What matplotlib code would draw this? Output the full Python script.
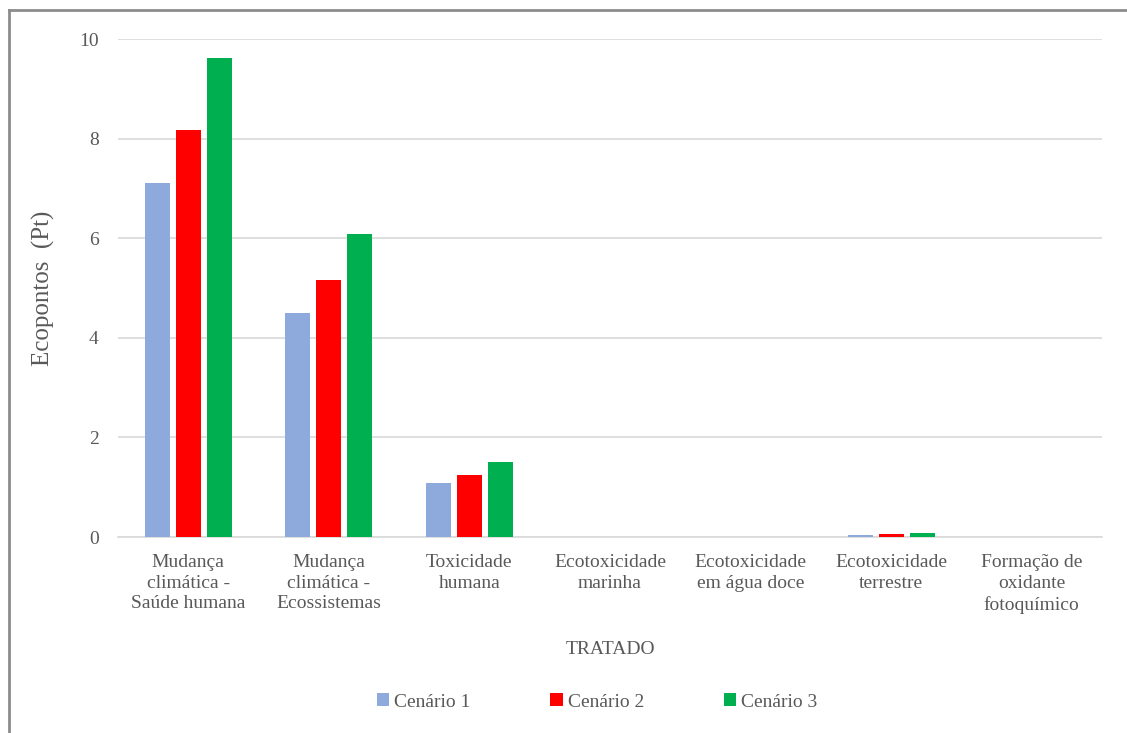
import matplotlib
matplotlib.use("Agg")
import matplotlib.pyplot as plt
import numpy as np
from matplotlib.lines import Line2D

categories = ["Mudança\nclimática -\nSaúde humana", "Mudança\nclimática -\nEcossistemas",
              "Toxicidade\nhumana", "Ecotoxicidade\nmarinha", "Ecotoxicidade\nem água doce",
              "Ecotoxicidade\nterrestre", "Formação de\noxidante\nfotoquímico"]
cenario1 = [7.10, 4.50, 1.08, 0.004, 0.004, 0.05, 0.003]
cenario2 = [8.18, 5.16, 1.25, 0.004, 0.004, 0.06, 0.003]
cenario3 = [9.62, 6.08, 1.50, 0.005, 0.005, 0.08, 0.004]
series_names = ["Cenário 1", "Cenário 2", "Cenário 3"]
colors = ["#8EA9DB", "#FF0000", "#00B050"]
yticks = [0, 2, 4, 6, 8, 10]

plt.rcParams['font.family'] = 'serif'
plt.rcParams['font.serif'] = ['Liberation Serif', 'Times New Roman', 'DejaVu Serif']

fig = plt.figure(figsize=(11.27, 7.33), dpi=100)
ax = fig.add_axes([118/1127, 1-537/733, (1102-118)/1127, (537-39)/733])

x = np.arange(len(categories))
w = 0.178
step = 0.22
for i, (vals, name, c) in enumerate(zip([cenario1, cenario2, cenario3], series_names, colors)):
    ax.bar(x + (i-1)*step, vals, width=w, color=c, label=name, zorder=3)

ax.set_xlim(-0.5, len(categories)-0.5)
ax.set_ylim(0, 10)
ax.set_yticks(yticks)
ax.set_yticklabels([str(t) for t in yticks], fontsize=14, color="#595959")
ax.set_xticks(x)
ax.set_xticklabels(categories, fontsize=14, color="#595959", linespacing=1.3)
ax.tick_params(axis='y', length=0, pad=14)
ax.tick_params(axis='x', length=0, pad=12)
ax.grid(axis='y', color="#D9D9D9", linewidth=1.2, zorder=0)
for s in ["top", "right", "left"]:
    ax.spines[s].set_visible(False)
ax.spines["bottom"].set_color("#D9D9D9")
ax.spines["bottom"].set_linewidth(1.2)

ax.set_ylabel("Ecopontos  (Pt)", fontsize=18, color="#595959", labelpad=17)
fig.text(0.5*(118+1102)/1127, 1-649/733, "TRATADO", fontsize=14, color="#595959", ha="center", va="center")

leg = fig.legend(loc="center", bbox_to_anchor=(597/1127, 1-702/733), ncol=3, frameon=False,
                 fontsize=14, handlelength=0.65, handleheight=0.65, handletextpad=0.25, columnspacing=4.1)
for t in leg.get_texts():
    t.set_color("#595959")

fig.add_artist(Line2D([9/1127, 9/1127], [0, 1-10/733], transform=fig.transFigure, color="#8C8C8C", linewidth=2))
fig.add_artist(Line2D([9/1127, 1], [1-10/733, 1-10/733], transform=fig.transFigure, color="#8C8C8C", linewidth=2))

fig.savefig("out.png", dpi=100)
